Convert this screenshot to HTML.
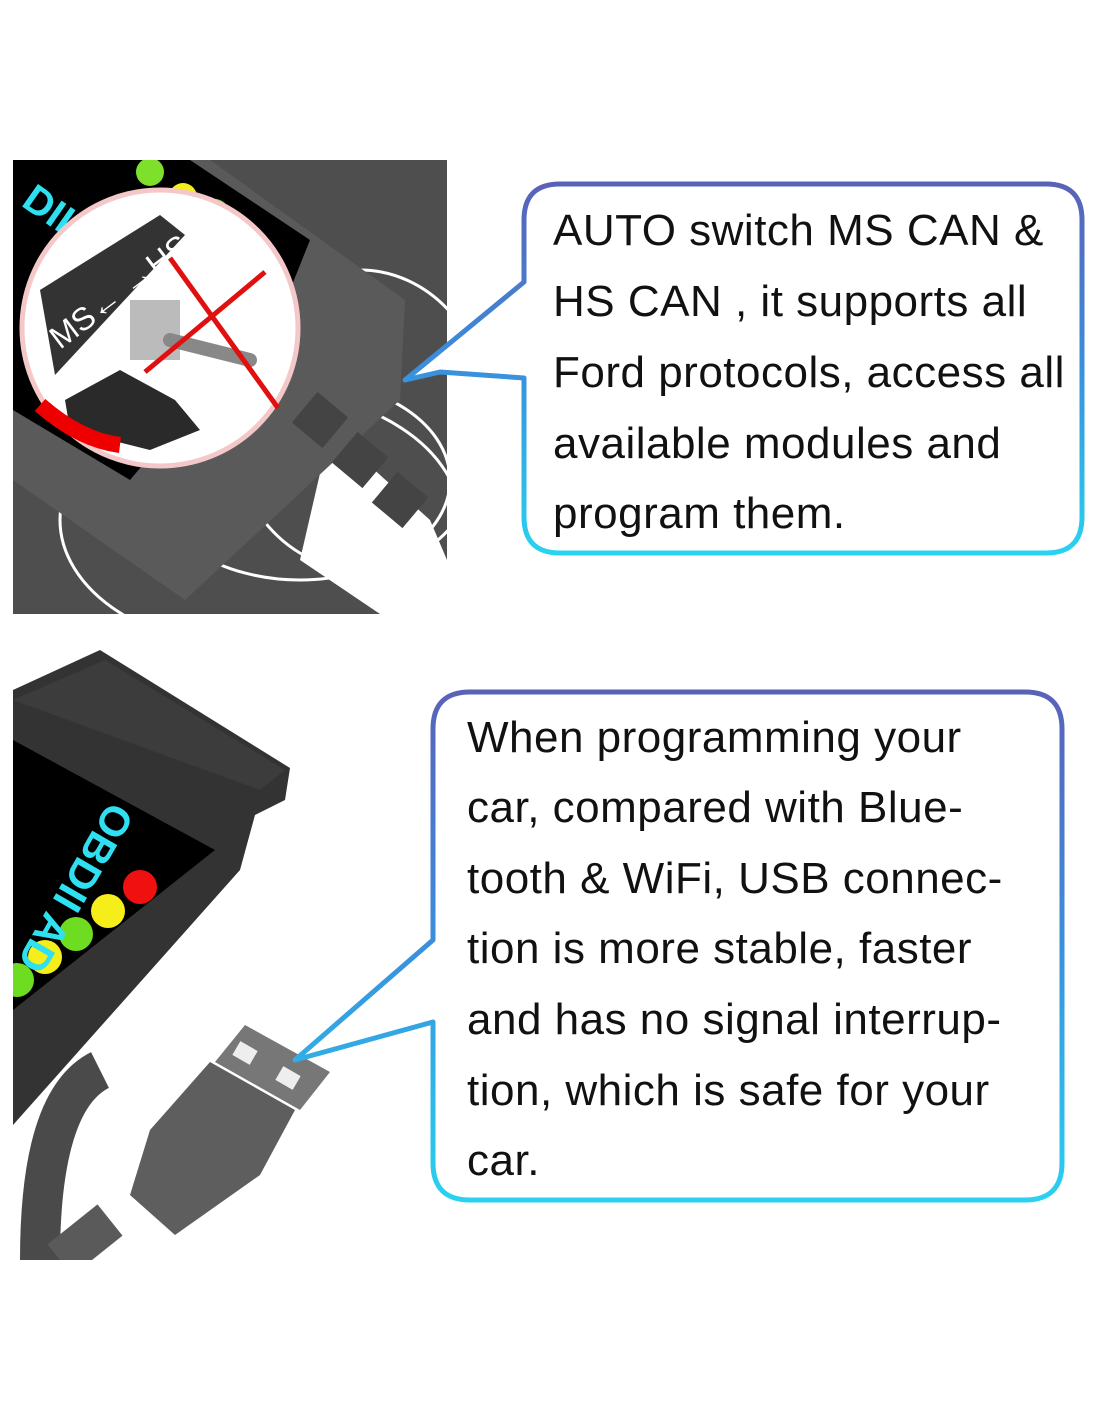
<!DOCTYPE html>
<html><head><meta charset="utf-8"><style>
html,body{margin:0;padding:0;background:#fff;}
body{width:1100px;height:1422px;position:relative;overflow:hidden;}
svg{position:absolute;left:0;top:0;}
.t{font-family:"Liberation Sans",sans-serif;font-size:44px;fill:#111;letter-spacing:0.5px;}
</style></head><body>
<svg width="1100" height="1422" viewBox="0 0 1100 1422">
<defs>
<linearGradient id="g1" x1="0" y1="0" x2="0" y2="1"><stop offset="0" stop-color="#5a62b8"/><stop offset="0.5" stop-color="#3a8fdc"/><stop offset="1" stop-color="#28d2f0"/></linearGradient>
<linearGradient id="g2" x1="0" y1="0" x2="0" y2="1"><stop offset="0" stop-color="#5a62b8"/><stop offset="0.5" stop-color="#3a8fdc"/><stop offset="1" stop-color="#28d2f0"/></linearGradient>
<clipPath id="c1"><rect x="13" y="160" width="434" height="454"/></clipPath>
<clipPath id="c2"><rect x="13" y="645" width="440" height="615"/></clipPath>
</defs>
<!-- top image -->
<g clip-path="url(#c1)">
<rect x="13" y="160" width="434" height="454" fill="#4e4e4e"/>
<g fill="none" stroke="#fff" stroke-width="3">
<ellipse cx="260" cy="520" rx="200" ry="130"/>
<ellipse cx="300" cy="480" rx="150" ry="100"/>
<ellipse cx="360" cy="420" rx="130" ry="150"/>
</g>
<polygon points="330,430 430,520 447,560 447,614 380,614 300,560" fill="#fff"/>
<polygon points="13,160 210,160 405,300 400,400 185,600 13,480" fill="#5a5a5a"/>
<polygon points="13,160 190,160 310,240 290,290 130,480 13,410" fill="#000"/>
<circle cx="150" cy="172" r="14" fill="#7ee02a"/>
<circle cx="183" cy="197" r="14" fill="#f5ee1a"/>
<circle cx="215" cy="213" r="14" fill="#6edc20"/>
<text x="20" y="205" font-family="Liberation Sans,sans-serif" font-weight="bold" font-size="40" fill="#2ee0f0" transform="rotate(35 20 205)">DII A</text>
<circle cx="160" cy="328" r="138" fill="#fff" stroke="#f4c8c8" stroke-width="5"/>
<polygon points="40,290 160,215 185,235 55,375" fill="#333"/>
<text x="60" y="350" font-family="Liberation Sans,sans-serif" font-size="32" fill="#fff" transform="rotate(-37 60 350)">MS← →HS</text>
<polygon points="65,400 120,370 175,400 200,430 150,450 70,430" fill="#2a2a2a"/>
<rect x="130" y="300" width="50" height="60" fill="#bbb"/>
<line x1="170" y1="340" x2="250" y2="360" stroke="#888" stroke-width="14" stroke-linecap="round"/>
<path d="M40,405 Q80,440 120,445" stroke="#e00" stroke-width="16" fill="none"/>
<line x1="170" y1="258" x2="278" y2="408" stroke="#e01010" stroke-width="5"/>
<line x1="145" y1="372" x2="265" y2="272" stroke="#e01010" stroke-width="5"/>
<g fill="#444"><rect x="300" y="400" width="40" height="40" transform="rotate(40 320 420)"/><rect x="340" y="440" width="40" height="40" transform="rotate(40 360 460)"/><rect x="380" y="480" width="40" height="40" transform="rotate(40 400 500)"/></g>
</g>
<!-- bottom image -->
<g clip-path="url(#c2)">
<path d="M40,1260 Q40,1100 100,1070" stroke="#4a4a4a" stroke-width="40" fill="none"/>
<polygon points="13,690 100,650 290,768 285,800 255,815 240,870 13,1125" fill="#333"/>
<polygon points="13,700 105,660 285,770 260,790" fill="#3c3c3c"/>
<polygon points="13,740 215,850 13,1010" fill="#000"/>
<circle cx="140" cy="887" r="17" fill="#f01010"/>
<circle cx="108" cy="911" r="17" fill="#f5ee1a"/>
<circle cx="76" cy="934" r="17" fill="#6edc20"/>
<circle cx="45" cy="957" r="17" fill="#f5ee1a"/>
<circle cx="17" cy="980" r="17" fill="#6edc20"/>
<text x="110" y="800" font-family="Liberation Sans,sans-serif" font-weight="bold" font-size="42" fill="#2ee0f0" transform="rotate(120 110 800)">OBDII AD</text>
<path d="M110,1220 L60,1260" stroke="#5a5a5a" stroke-width="40"/>
<polygon points="245,1025 330,1072 300,1110 215,1062" fill="#777"/>
<rect x="235" y="1045" width="20" height="16" fill="#eee" transform="rotate(30 245 1053)"/>
<rect x="278" y="1070" width="20" height="16" fill="#eee" transform="rotate(30 288 1078)"/>
<polygon points="210,1062 295,1110 260,1175 175,1235 130,1195 150,1130" fill="#5e5e5e"/>
</g>
<!-- callout 1 -->
<path d="M560,184 H1046 Q1082,184 1082,220 V517 Q1082,553 1046,553 H560 Q524,553 524,517 V378 L440,372 L405,380 L524,282 V220 Q524,184 560,184 Z" fill="#fff" stroke="url(#g1)" stroke-width="5" stroke-linejoin="round"/>
<text class="t" x="553" y="245">AUTO switch MS CAN &amp;</text>
<text class="t" x="553" y="316">HS CAN , it supports all</text>
<text class="t" x="553" y="387">Ford protocols, access all</text>
<text class="t" x="553" y="458">available modules and</text>
<text class="t" x="553" y="528">program them.</text>
<!-- callout 2 -->
<path d="M470,692 H1025 Q1062,692 1062,729 V1163 Q1062,1200 1025,1200 H470 Q433,1200 433,1163 V1022 L295,1060 L433,940 V729 Q433,692 470,692 Z" fill="#fff" stroke="url(#g2)" stroke-width="5" stroke-linejoin="round"/>
<text class="t" x="467" y="752">When programming your</text>
<text class="t" x="467" y="822">car, compared with Blue-</text>
<text class="t" x="467" y="893">tooth &amp; WiFi, USB connec-</text>
<text class="t" x="467" y="963">tion is more stable, faster</text>
<text class="t" x="467" y="1034">and has no signal interrup-</text>
<text class="t" x="467" y="1105">tion, which is safe for your</text>
<text class="t" x="467" y="1175">car.</text>
</svg>
</body></html>
